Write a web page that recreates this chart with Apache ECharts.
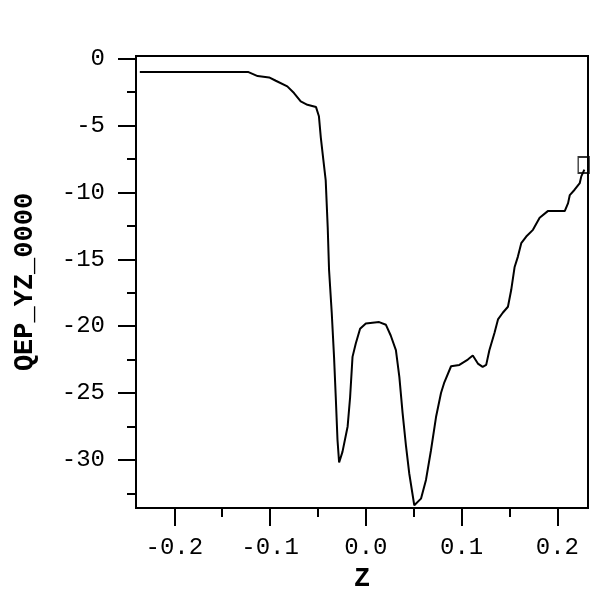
<!DOCTYPE html>
<html>
<head>
<meta charset="utf-8">
<script src="https://cdn.jsdelivr.net/npm/echarts@6/dist/echarts.min.js"></script>
<style>html,body{margin:0;padding:0;background:#fff}#c{width:616px;height:590px}</style>
</head>
<body>
<div id="c"></div>
<script>
// Data
const zValues = [-0.236,-0.2,-0.16,-0.1225,-0.113,-0.101,-0.094,-0.082,-0.075,-0.068,-0.061,-0.052,-0.049,-0.047,-0.0443,-0.0419,-0.0398,-0.0384,-0.0356,-0.0332,-0.0314,-0.0296,-0.0279,-0.0244,-0.019,-0.0164,-0.0139,-0.0105,-0.006,0.0,0.0139,0.021,0.026,0.0314,0.035,0.0384,0.042,0.0453,0.0506,0.0576,0.0628,0.068,0.0733,0.0785,0.082,0.089,0.0977,0.1065,0.1117,0.117,0.122,0.1257,0.129,0.1344,0.138,0.143,0.1484,0.1518,0.1553,0.1588,0.1623,0.1675,0.1745,0.1815,0.190,0.2077,0.2112,0.213,0.218,0.2234,0.225,0.2282];
const qepValues = [-1.0,-1.0,-1.0,-1.0,-1.3,-1.4,-1.65,-2.07,-2.57,-3.2,-3.45,-3.62,-4.3,-5.9,-7.6,-9.1,-12.6,-15.8,-19.0,-22.3,-25.3,-28.5,-30.2,-29.4,-27.5,-25.3,-22.3,-21.3,-20.2,-19.8,-19.7,-19.9,-20.7,-21.8,-23.8,-26.5,-29.0,-31.0,-33.4,-32.9,-31.5,-29.3,-26.8,-25.0,-24.2,-23.0,-22.9,-22.5,-22.2,-22.8,-23.05,-22.9,-21.8,-20.5,-19.5,-19.0,-18.55,-17.3,-15.6,-14.8,-13.8,-13.3,-12.8,-11.9,-11.4,-11.4,-10.8,-10.2,-9.8,-9.3,-8.8,-8.3];
const markerZ = [0.2275];
const markerQ = [-7.95];
const xMajorTicks = [-0.2,-0.1,0.0,0.1,0.2];
const xMinorTicks = [-0.15,-0.05,0.05,0.15];
const yMajorTicks = [0,-5,-10,-15,-20,-25,-30];
const yMinorTicks = [-2.5,-7.5,-12.5,-17.5,-22.5,-27.5,-32.5];
const xName = 'Z';
const yName = 'QEP_YZ_0000';

const FONT = 'Liberation Mono';
const lineData = zValues.map((z,i)=>[z,qepValues[i]]);
const markData = markerZ.map((z,i)=>[z,markerQ[i]]);
const XMIN=-0.24, XMAX=0.232, YMIN=-33.6, YMAX=0.2;

const chart = echarts.init(document.getElementById('c'));
chart.setOption({
  animation:false,
  backgroundColor:'#fff',
  grid:{left:136,top:56,right:28,bottom:82,containLabel:false,outerBoundsMode:'none',
    show:true,borderColor:'#000',borderWidth:2,backgroundColor:'transparent'},
  xAxis:[{
    type:'value',min:XMIN,max:XMAX,position:'bottom',offset:0,
    name:xName,nameLocation:'middle',nameGap:58,
    nameTextStyle:{fontFamily:FONT,fontSize:27,fontWeight:'bold',color:'#000'},
    axisLine:{show:true,onZero:false,lineStyle:{color:'#000',width:2}},
    axisTick:{show:true,inside:false,length:18,lineStyle:{color:'#000',width:2},customValues:xMajorTicks},
    axisLabel:{show:true,margin:28,fontFamily:FONT,fontSize:24,color:'#000',customValues:xMajorTicks,
      formatter:v=>(Math.round(v*10)/10).toFixed(1)},
    splitLine:{show:false}
  },{
    type:'value',min:XMIN,max:XMAX,position:'bottom',offset:0,
    axisLine:{show:false,onZero:false},
    axisTick:{show:true,inside:false,length:9,lineStyle:{color:'#000',width:2},customValues:xMinorTicks},
    axisLabel:{show:false},splitLine:{show:false}
  }],
  yAxis:[{
    type:'value',min:YMIN,max:YMAX,position:'left',offset:0,
    name:yName,nameLocation:'middle',nameGap:97,nameRotate:90,
    nameTextStyle:{fontFamily:FONT,fontSize:27,fontWeight:'bold',color:'#000'},
    axisLine:{show:true,onZero:false,lineStyle:{color:'#000',width:2}},
    axisTick:{show:true,inside:false,length:18,lineStyle:{color:'#000',width:2},customValues:yMajorTicks},
    axisLabel:{show:true,margin:31,fontFamily:FONT,fontSize:24,color:'#000',customValues:yMajorTicks,
      formatter:v=>String(Math.round(v))},
    splitLine:{show:false}
  },{
    type:'value',min:YMIN,max:YMAX,position:'left',offset:0,
    axisLine:{show:false,onZero:false},
    axisTick:{show:true,inside:false,length:9,lineStyle:{color:'#000',width:2},customValues:yMinorTicks},
    axisLabel:{show:false},splitLine:{show:false}
  }],
  series:[{
    type:'line',data:lineData,xAxisIndex:0,yAxisIndex:0,
    showSymbol:false,symbol:'none',smooth:false,
    lineStyle:{color:'#000',width:2},
    emphasis:{disabled:true}
  },{
    type:'scatter',data:markData,xAxisIndex:0,yAxisIndex:0,
    symbol:'rect',symbolSize:[11,16],
    itemStyle:{color:'none',borderColor:'#000',borderWidth:1.6},
    emphasis:{disabled:true}
  }]
});
</script>
</body>
</html>
